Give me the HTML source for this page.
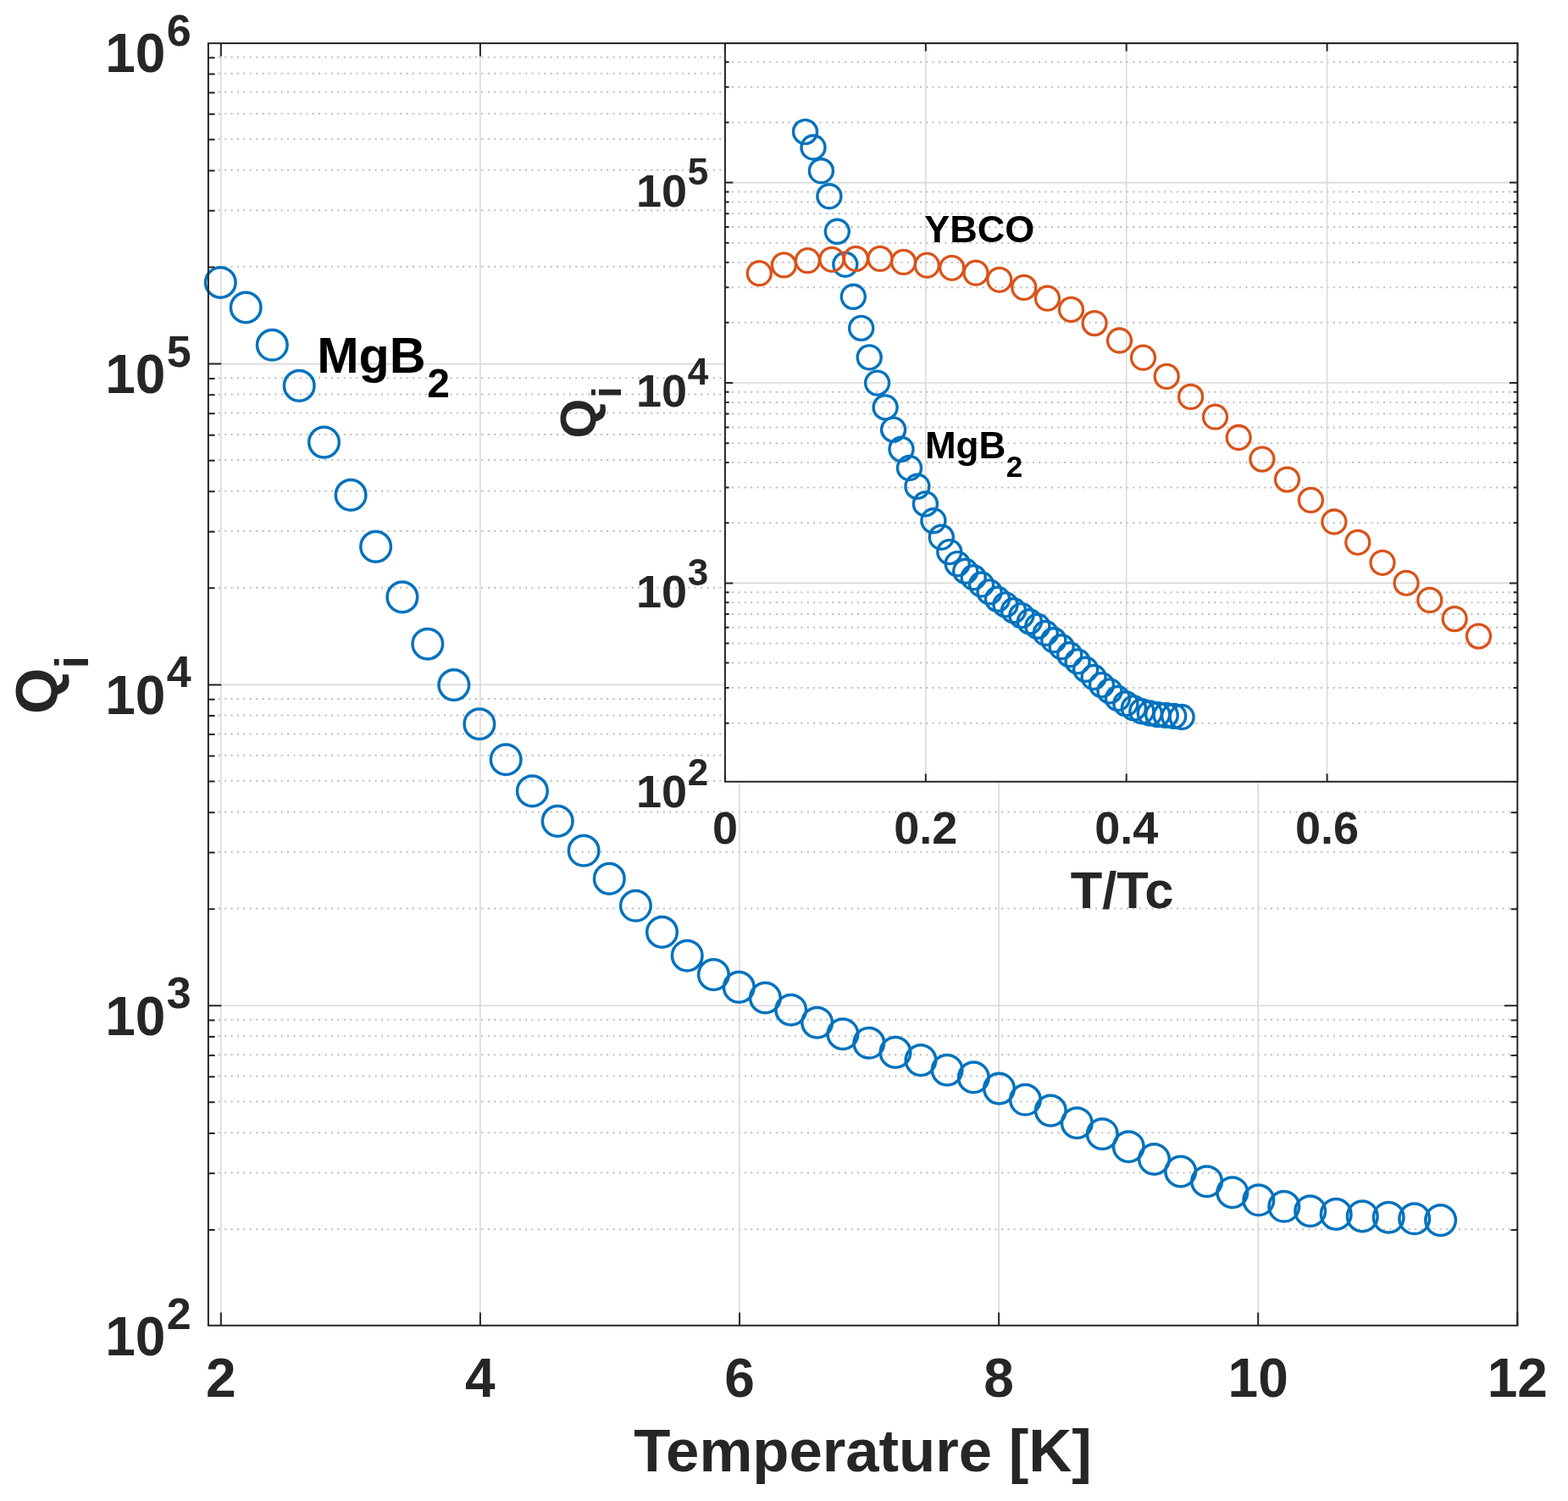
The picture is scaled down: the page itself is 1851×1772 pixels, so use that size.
<!DOCTYPE html>
<html><head><meta charset="utf-8"><title>Qi vs Temperature</title>
<style>html,body{margin:0;padding:0;background:#fff;}svg{display:block;}</style>
</head><body>
<svg width="1851" height="1772" viewBox="0 0 1851 1772">
<rect width="1851" height="1772" fill="#fff"/>
<path d="M245.9 1451.27H1791.3M245.9 1384.57H1791.3M245.9 1337.24H1791.3M245.9 1300.53H1791.3M245.9 1270.54H1791.3M245.9 1245.18H1791.3M245.9 1223.21H1791.3M245.9 1203.83H1791.3M245.9 1072.47H1791.3M245.9 1005.77H1791.3M245.9 958.44H1791.3M245.9 921.73H1791.3M245.9 891.74H1791.3M245.9 866.38H1791.3M245.9 844.41H1791.3M245.9 825.03H1791.3M245.9 693.67H1791.3M245.9 626.97H1791.3M245.9 579.64H1791.3M245.9 542.93H1791.3M245.9 512.94H1791.3M245.9 487.58H1791.3M245.9 465.61H1791.3M245.9 446.23H1791.3M245.9 314.87H1791.3M245.9 248.17H1791.3M245.9 200.84H1791.3M245.9 164.13H1791.3M245.9 134.14H1791.3M245.9 108.78H1791.3M245.9 86.81H1791.3M245.9 67.43H1791.3" stroke="#bcbcbc" stroke-width="2" stroke-dasharray="2 5.394" stroke-dashoffset="2.9" fill="none"/>
<path d="M245.9 1187.20H1791.3M245.9 808.40H1791.3M245.9 429.60H1791.3M260.80 51.1V1564.8M566.90 51.1V1564.8M873.00 51.1V1564.8M1179.10 51.1V1564.8M1485.20 51.1V1564.8" stroke="#dadada" stroke-width="1.6" fill="none"/>
<circle cx="260.3" cy="333.5" r="17.8" stroke="#0072bd" stroke-width="3.5" fill="none"/>
<circle cx="290.2" cy="363.0" r="17.8" stroke="#0072bd" stroke-width="3.5" fill="none"/>
<circle cx="321.3" cy="407.3" r="17.8" stroke="#0072bd" stroke-width="3.5" fill="none"/>
<circle cx="353.2" cy="455.4" r="17.8" stroke="#0072bd" stroke-width="3.5" fill="none"/>
<circle cx="382.5" cy="522.1" r="17.8" stroke="#0072bd" stroke-width="3.5" fill="none"/>
<circle cx="414.1" cy="584.4" r="17.8" stroke="#0072bd" stroke-width="3.5" fill="none"/>
<circle cx="443.6" cy="645.4" r="17.8" stroke="#0072bd" stroke-width="3.5" fill="none"/>
<circle cx="474.9" cy="704.9" r="17.8" stroke="#0072bd" stroke-width="3.5" fill="none"/>
<circle cx="504.8" cy="760.2" r="17.8" stroke="#0072bd" stroke-width="3.5" fill="none"/>
<circle cx="535.8" cy="808.6" r="17.8" stroke="#0072bd" stroke-width="3.5" fill="none"/>
<circle cx="565.9" cy="854.7" r="17.8" stroke="#0072bd" stroke-width="3.5" fill="none"/>
<circle cx="597.2" cy="896.7" r="17.8" stroke="#0072bd" stroke-width="3.5" fill="none"/>
<circle cx="628.4" cy="933.9" r="17.8" stroke="#0072bd" stroke-width="3.5" fill="none"/>
<circle cx="658.2" cy="969.4" r="17.8" stroke="#0072bd" stroke-width="3.5" fill="none"/>
<circle cx="689.1" cy="1004.3" r="17.8" stroke="#0072bd" stroke-width="3.5" fill="none"/>
<circle cx="719.3" cy="1037.4" r="17.8" stroke="#0072bd" stroke-width="3.5" fill="none"/>
<circle cx="750.4" cy="1069.3" r="17.8" stroke="#0072bd" stroke-width="3.5" fill="none"/>
<circle cx="781.5" cy="1100.4" r="17.8" stroke="#0072bd" stroke-width="3.5" fill="none"/>
<circle cx="811.2" cy="1128.2" r="17.8" stroke="#0072bd" stroke-width="3.5" fill="none"/>
<circle cx="842.4" cy="1150.6" r="17.8" stroke="#0072bd" stroke-width="3.5" fill="none"/>
<circle cx="872.3" cy="1165.4" r="17.8" stroke="#0072bd" stroke-width="3.5" fill="none"/>
<circle cx="903.4" cy="1178.0" r="17.8" stroke="#0072bd" stroke-width="3.5" fill="none"/>
<circle cx="933.7" cy="1192.2" r="17.8" stroke="#0072bd" stroke-width="3.5" fill="none"/>
<circle cx="964.6" cy="1207.2" r="17.8" stroke="#0072bd" stroke-width="3.5" fill="none"/>
<circle cx="994.9" cy="1220.7" r="17.8" stroke="#0072bd" stroke-width="3.5" fill="none"/>
<circle cx="1025.8" cy="1231.3" r="17.8" stroke="#0072bd" stroke-width="3.5" fill="none"/>
<circle cx="1057.0" cy="1242.4" r="17.8" stroke="#0072bd" stroke-width="3.5" fill="none"/>
<circle cx="1087.0" cy="1251.6" r="17.8" stroke="#0072bd" stroke-width="3.5" fill="none"/>
<circle cx="1118.1" cy="1263.2" r="17.8" stroke="#0072bd" stroke-width="3.5" fill="none"/>
<circle cx="1149.3" cy="1271.9" r="17.8" stroke="#0072bd" stroke-width="3.5" fill="none"/>
<circle cx="1179.5" cy="1285.1" r="17.8" stroke="#0072bd" stroke-width="3.5" fill="none"/>
<circle cx="1210.4" cy="1298.3" r="17.8" stroke="#0072bd" stroke-width="3.5" fill="none"/>
<circle cx="1240.3" cy="1311.1" r="17.8" stroke="#0072bd" stroke-width="3.5" fill="none"/>
<circle cx="1271.3" cy="1325.7" r="17.8" stroke="#0072bd" stroke-width="3.5" fill="none"/>
<circle cx="1301.3" cy="1338.7" r="17.8" stroke="#0072bd" stroke-width="3.5" fill="none"/>
<circle cx="1332.3" cy="1353.7" r="17.8" stroke="#0072bd" stroke-width="3.5" fill="none"/>
<circle cx="1362.5" cy="1368.5" r="17.8" stroke="#0072bd" stroke-width="3.5" fill="none"/>
<circle cx="1393.7" cy="1383.0" r="17.8" stroke="#0072bd" stroke-width="3.5" fill="none"/>
<circle cx="1424.6" cy="1394.7" r="17.8" stroke="#0072bd" stroke-width="3.5" fill="none"/>
<circle cx="1454.8" cy="1407.7" r="17.8" stroke="#0072bd" stroke-width="3.5" fill="none"/>
<circle cx="1485.8" cy="1416.8" r="17.8" stroke="#0072bd" stroke-width="3.5" fill="none"/>
<circle cx="1515.8" cy="1424.3" r="17.8" stroke="#0072bd" stroke-width="3.5" fill="none"/>
<circle cx="1546.7" cy="1429.7" r="17.8" stroke="#0072bd" stroke-width="3.5" fill="none"/>
<circle cx="1577.2" cy="1433.4" r="17.8" stroke="#0072bd" stroke-width="3.5" fill="none"/>
<circle cx="1608.3" cy="1435.9" r="17.8" stroke="#0072bd" stroke-width="3.5" fill="none"/>
<circle cx="1639.2" cy="1437.2" r="17.8" stroke="#0072bd" stroke-width="3.5" fill="none"/>
<circle cx="1669.7" cy="1438.8" r="17.8" stroke="#0072bd" stroke-width="3.5" fill="none"/>
<circle cx="1700.6" cy="1440.6" r="17.8" stroke="#0072bd" stroke-width="3.5" fill="none"/>
<path d="M260.80 1564.8V1549.4M260.80 51.1V66.5M566.90 1564.8V1549.4M566.90 51.1V66.5M873.00 1564.8V1549.4M873.00 51.1V66.5M1179.10 1564.8V1549.4M1179.10 51.1V66.5M1485.20 1564.8V1549.4M1485.20 51.1V66.5M1791.30 1564.8V1549.4M1791.30 51.1V66.5M245.9 1187.20H261.3M1791.3 1187.20H1775.9M245.9 808.40H261.3M1791.3 808.40H1775.9M245.9 429.60H261.3M1791.3 429.60H1775.9M245.9 1451.97H253.6M1791.3 1451.97H1783.6M245.9 1385.27H253.6M1791.3 1385.27H1783.6M245.9 1337.94H253.6M1791.3 1337.94H1783.6M245.9 1301.23H253.6M1791.3 1301.23H1783.6M245.9 1271.24H253.6M1791.3 1271.24H1783.6M245.9 1245.88H253.6M1791.3 1245.88H1783.6M245.9 1223.91H253.6M1791.3 1223.91H1783.6M245.9 1204.53H253.6M1791.3 1204.53H1783.6M245.9 1073.17H253.6M1791.3 1073.17H1783.6M245.9 1006.47H253.6M1791.3 1006.47H1783.6M245.9 959.14H253.6M1791.3 959.14H1783.6M245.9 922.43H253.6M1791.3 922.43H1783.6M245.9 892.44H253.6M1791.3 892.44H1783.6M245.9 867.08H253.6M1791.3 867.08H1783.6M245.9 845.11H253.6M1791.3 845.11H1783.6M245.9 825.73H253.6M1791.3 825.73H1783.6M245.9 694.37H253.6M1791.3 694.37H1783.6M245.9 627.67H253.6M1791.3 627.67H1783.6M245.9 580.34H253.6M1791.3 580.34H1783.6M245.9 543.63H253.6M1791.3 543.63H1783.6M245.9 513.64H253.6M1791.3 513.64H1783.6M245.9 488.28H253.6M1791.3 488.28H1783.6M245.9 466.31H253.6M1791.3 466.31H1783.6M245.9 446.93H253.6M1791.3 446.93H1783.6M245.9 315.57H253.6M1791.3 315.57H1783.6M245.9 248.87H253.6M1791.3 248.87H1783.6M245.9 201.54H253.6M1791.3 201.54H1783.6M245.9 164.83H253.6M1791.3 164.83H1783.6M245.9 134.84H253.6M1791.3 134.84H1783.6M245.9 109.48H253.6M1791.3 109.48H1783.6M245.9 87.51H253.6M1791.3 87.51H1783.6M245.9 68.13H253.6M1791.3 68.13H1783.6" stroke="#262626" stroke-width="2" fill="none"/>
<rect x="245.9" y="51.1" width="1545.4" height="1513.7" stroke="#262626" stroke-width="2" fill="none"/>
<g style="font-family:'Liberation Sans',Arial,sans-serif;font-weight:bold" fill="#262626">
<text x="260.8" y="1649" font-size="64" text-anchor="middle">2</text>
<text x="566.9" y="1649" font-size="64" text-anchor="middle">4</text>
<text x="873.0" y="1649" font-size="64" text-anchor="middle">6</text>
<text x="1179.1" y="1649" font-size="64" text-anchor="middle">8</text>
<text x="1485.2" y="1649" font-size="64" text-anchor="middle">10</text>
<text x="1791.3" y="1649" font-size="64" text-anchor="middle">12</text>
<text x="195.4" y="1600.3" font-size="64" text-anchor="end">10</text>
<text x="225.6" y="1568.9" font-size="52" text-anchor="end">2</text>
<text x="195.4" y="1221.5" font-size="64" text-anchor="end">10</text>
<text x="225.6" y="1190.1" font-size="52" text-anchor="end">3</text>
<text x="195.4" y="842.7" font-size="64" text-anchor="end">10</text>
<text x="225.6" y="811.3" font-size="52" text-anchor="end">4</text>
<text x="195.4" y="463.9" font-size="64" text-anchor="end">10</text>
<text x="225.6" y="432.5" font-size="52" text-anchor="end">5</text>
<text x="195.4" y="85.1" font-size="64" text-anchor="end">10</text>
<text x="225.6" y="53.7" font-size="52" text-anchor="end">6</text>
</g>
<text x="1018.5" y="1737.2" style="font-family:'Liberation Sans',Arial,sans-serif;font-weight:bold" font-size="70.7" fill="#262626" text-anchor="middle">Temperature [K]</text>
<g style="font-family:'Liberation Sans',Arial,sans-serif;font-weight:bold" fill="#262626"><text transform="translate(68,843) rotate(-90)" font-size="70">Q</text><text transform="translate(104.3,789.5) rotate(-90)" font-size="56">i</text></g>
<g style="font-family:'Liberation Sans',Arial,sans-serif;font-weight:bold" fill="#000"><text x="374.2" y="439.5" font-size="59.3">MgB</text><text x="504.2" y="469" font-size="48">2</text></g>
<rect x="855.9" y="51.1" width="935.4" height="871.7" fill="#fff"/>
<path d="M855.9 853.64H1791.3M855.9 812.01H1791.3M855.9 782.47H1791.3M855.9 759.56H1791.3M855.9 740.85H1791.3M855.9 725.02H1791.3M855.9 711.31H1791.3M855.9 699.22H1791.3M855.9 617.24H1791.3M855.9 575.61H1791.3M855.9 546.07H1791.3M855.9 523.16H1791.3M855.9 504.45H1791.3M855.9 488.62H1791.3M855.9 474.91H1791.3M855.9 462.82H1791.3M855.9 380.84H1791.3M855.9 339.21H1791.3M855.9 309.67H1791.3M855.9 286.76H1791.3M855.9 268.05H1791.3M855.9 252.22H1791.3M855.9 238.51H1791.3M855.9 226.42H1791.3M855.9 144.44H1791.3M855.9 102.81H1791.3M855.9 73.27H1791.3" stroke="#bcbcbc" stroke-width="2" stroke-dasharray="2 5.394" stroke-dashoffset="-0.7" fill="none"/>
<path d="M855.9 688.40H1791.3M855.9 452.00H1791.3M855.9 215.60H1791.3M1092.80 51.1V922.8M1329.70 51.1V922.8M1566.60 51.1V922.8" stroke="#dadada" stroke-width="1.6" fill="none"/>
<circle cx="950.5" cy="155.6" r="14.0" stroke="#0072bd" stroke-width="3.4" fill="none"/>
<circle cx="960.0" cy="174.0" r="14.0" stroke="#0072bd" stroke-width="3.4" fill="none"/>
<circle cx="969.4" cy="201.7" r="14.0" stroke="#0072bd" stroke-width="3.4" fill="none"/>
<circle cx="978.9" cy="231.7" r="14.0" stroke="#0072bd" stroke-width="3.4" fill="none"/>
<circle cx="988.3" cy="273.3" r="14.0" stroke="#0072bd" stroke-width="3.4" fill="none"/>
<circle cx="997.8" cy="312.2" r="14.0" stroke="#0072bd" stroke-width="3.4" fill="none"/>
<circle cx="1007.3" cy="350.3" r="14.0" stroke="#0072bd" stroke-width="3.4" fill="none"/>
<circle cx="1016.7" cy="387.4" r="14.0" stroke="#0072bd" stroke-width="3.4" fill="none"/>
<circle cx="1026.2" cy="421.9" r="14.0" stroke="#0072bd" stroke-width="3.4" fill="none"/>
<circle cx="1035.6" cy="452.1" r="14.0" stroke="#0072bd" stroke-width="3.4" fill="none"/>
<circle cx="1045.1" cy="480.9" r="14.0" stroke="#0072bd" stroke-width="3.4" fill="none"/>
<circle cx="1054.6" cy="507.1" r="14.0" stroke="#0072bd" stroke-width="3.4" fill="none"/>
<circle cx="1064.0" cy="530.3" r="14.0" stroke="#0072bd" stroke-width="3.4" fill="none"/>
<circle cx="1073.5" cy="552.5" r="14.0" stroke="#0072bd" stroke-width="3.4" fill="none"/>
<circle cx="1082.9" cy="574.3" r="14.0" stroke="#0072bd" stroke-width="3.4" fill="none"/>
<circle cx="1092.4" cy="594.9" r="14.0" stroke="#0072bd" stroke-width="3.4" fill="none"/>
<circle cx="1101.9" cy="614.8" r="14.0" stroke="#0072bd" stroke-width="3.4" fill="none"/>
<circle cx="1111.3" cy="634.2" r="14.0" stroke="#0072bd" stroke-width="3.4" fill="none"/>
<circle cx="1120.8" cy="651.6" r="14.0" stroke="#0072bd" stroke-width="3.4" fill="none"/>
<circle cx="1130.2" cy="665.6" r="14.0" stroke="#0072bd" stroke-width="3.4" fill="none"/>
<circle cx="1139.7" cy="674.3" r="14.0" stroke="#0072bd" stroke-width="3.4" fill="none"/>
<circle cx="1149.2" cy="681.7" r="14.0" stroke="#0072bd" stroke-width="3.4" fill="none"/>
<circle cx="1158.6" cy="690.0" r="14.0" stroke="#0072bd" stroke-width="3.4" fill="none"/>
<circle cx="1168.1" cy="698.9" r="14.0" stroke="#0072bd" stroke-width="3.4" fill="none"/>
<circle cx="1177.5" cy="707.3" r="14.0" stroke="#0072bd" stroke-width="3.4" fill="none"/>
<circle cx="1187.0" cy="713.9" r="14.0" stroke="#0072bd" stroke-width="3.4" fill="none"/>
<circle cx="1196.5" cy="720.8" r="14.0" stroke="#0072bd" stroke-width="3.4" fill="none"/>
<circle cx="1205.9" cy="726.6" r="14.0" stroke="#0072bd" stroke-width="3.4" fill="none"/>
<circle cx="1215.4" cy="733.8" r="14.0" stroke="#0072bd" stroke-width="3.4" fill="none"/>
<circle cx="1224.8" cy="739.3" r="14.0" stroke="#0072bd" stroke-width="3.4" fill="none"/>
<circle cx="1234.3" cy="747.5" r="14.0" stroke="#0072bd" stroke-width="3.4" fill="none"/>
<circle cx="1243.8" cy="755.7" r="14.0" stroke="#0072bd" stroke-width="3.4" fill="none"/>
<circle cx="1253.2" cy="763.7" r="14.0" stroke="#0072bd" stroke-width="3.4" fill="none"/>
<circle cx="1262.7" cy="772.8" r="14.0" stroke="#0072bd" stroke-width="3.4" fill="none"/>
<circle cx="1272.1" cy="780.9" r="14.0" stroke="#0072bd" stroke-width="3.4" fill="none"/>
<circle cx="1281.6" cy="790.3" r="14.0" stroke="#0072bd" stroke-width="3.4" fill="none"/>
<circle cx="1291.1" cy="799.5" r="14.0" stroke="#0072bd" stroke-width="3.4" fill="none"/>
<circle cx="1300.5" cy="808.6" r="14.0" stroke="#0072bd" stroke-width="3.4" fill="none"/>
<circle cx="1310.0" cy="815.9" r="14.0" stroke="#0072bd" stroke-width="3.4" fill="none"/>
<circle cx="1319.4" cy="824.5" r="14.0" stroke="#0072bd" stroke-width="3.4" fill="none"/>
<circle cx="1328.9" cy="830.7" r="14.0" stroke="#0072bd" stroke-width="3.4" fill="none"/>
<circle cx="1338.4" cy="835.9" r="14.0" stroke="#0072bd" stroke-width="3.4" fill="none"/>
<circle cx="1347.8" cy="839.7" r="14.0" stroke="#0072bd" stroke-width="3.4" fill="none"/>
<circle cx="1357.3" cy="842.0" r="14.0" stroke="#0072bd" stroke-width="3.4" fill="none"/>
<circle cx="1366.7" cy="843.6" r="14.0" stroke="#0072bd" stroke-width="3.4" fill="none"/>
<circle cx="1376.2" cy="844.4" r="14.0" stroke="#0072bd" stroke-width="3.4" fill="none"/>
<circle cx="1385.7" cy="845.4" r="14.0" stroke="#0072bd" stroke-width="3.4" fill="none"/>
<circle cx="1395.1" cy="846.5" r="14.0" stroke="#0072bd" stroke-width="3.4" fill="none"/>
<circle cx="896.3" cy="322.7" r="14.0" stroke="#d95319" stroke-width="3.3" fill="none"/>
<circle cx="925.4" cy="312.9" r="14.0" stroke="#d95319" stroke-width="3.3" fill="none"/>
<circle cx="953.4" cy="307.7" r="14.0" stroke="#d95319" stroke-width="3.3" fill="none"/>
<circle cx="981.9" cy="306.3" r="14.0" stroke="#d95319" stroke-width="3.3" fill="none"/>
<circle cx="1010.4" cy="305.4" r="14.0" stroke="#d95319" stroke-width="3.3" fill="none"/>
<circle cx="1038.9" cy="305.4" r="14.0" stroke="#d95319" stroke-width="3.3" fill="none"/>
<circle cx="1066.6" cy="309.4" r="14.0" stroke="#d95319" stroke-width="3.3" fill="none"/>
<circle cx="1094.3" cy="313.2" r="14.0" stroke="#d95319" stroke-width="3.3" fill="none"/>
<circle cx="1123.7" cy="316.3" r="14.0" stroke="#d95319" stroke-width="3.3" fill="none"/>
<circle cx="1152.0" cy="322.2" r="14.0" stroke="#d95319" stroke-width="3.3" fill="none"/>
<circle cx="1179.8" cy="330.3" r="14.0" stroke="#d95319" stroke-width="3.3" fill="none"/>
<circle cx="1208.8" cy="339.4" r="14.0" stroke="#d95319" stroke-width="3.3" fill="none"/>
<circle cx="1236.5" cy="352.2" r="14.0" stroke="#d95319" stroke-width="3.3" fill="none"/>
<circle cx="1264.5" cy="365.4" r="14.0" stroke="#d95319" stroke-width="3.3" fill="none"/>
<circle cx="1292.1" cy="381.6" r="14.0" stroke="#d95319" stroke-width="3.3" fill="none"/>
<circle cx="1321.5" cy="402.0" r="14.0" stroke="#d95319" stroke-width="3.3" fill="none"/>
<circle cx="1349.5" cy="422.2" r="14.0" stroke="#d95319" stroke-width="3.3" fill="none"/>
<circle cx="1377.2" cy="444.4" r="14.0" stroke="#d95319" stroke-width="3.3" fill="none"/>
<circle cx="1405.6" cy="468.4" r="14.0" stroke="#d95319" stroke-width="3.3" fill="none"/>
<circle cx="1434.5" cy="492.2" r="14.0" stroke="#d95319" stroke-width="3.3" fill="none"/>
<circle cx="1462.2" cy="516.5" r="14.0" stroke="#d95319" stroke-width="3.3" fill="none"/>
<circle cx="1489.9" cy="542.1" r="14.0" stroke="#d95319" stroke-width="3.3" fill="none"/>
<circle cx="1519.5" cy="566.1" r="14.0" stroke="#d95319" stroke-width="3.3" fill="none"/>
<circle cx="1547.4" cy="590.4" r="14.0" stroke="#d95319" stroke-width="3.3" fill="none"/>
<circle cx="1574.9" cy="616.0" r="14.0" stroke="#d95319" stroke-width="3.3" fill="none"/>
<circle cx="1602.8" cy="640.3" r="14.0" stroke="#d95319" stroke-width="3.3" fill="none"/>
<circle cx="1632.0" cy="664.3" r="14.0" stroke="#d95319" stroke-width="3.3" fill="none"/>
<circle cx="1660.1" cy="688.3" r="14.0" stroke="#d95319" stroke-width="3.3" fill="none"/>
<circle cx="1687.8" cy="708.4" r="14.0" stroke="#d95319" stroke-width="3.3" fill="none"/>
<circle cx="1717.2" cy="730.6" r="14.0" stroke="#d95319" stroke-width="3.3" fill="none"/>
<circle cx="1745.5" cy="751.1" r="14.0" stroke="#d95319" stroke-width="3.3" fill="none"/>
<path d="M855.90 922.8V913.4M855.90 51.1V60.5M1092.80 922.8V913.4M1092.80 51.1V60.5M1329.70 922.8V913.4M1329.70 51.1V60.5M1566.60 922.8V913.4M1566.60 51.1V60.5M855.9 688.40H865.3M1791.3 688.40H1781.9M855.9 452.00H865.3M1791.3 452.00H1781.9M855.9 215.60H865.3M1791.3 215.60H1781.9M855.9 853.64H860.6M1791.3 853.64H1786.6M855.9 812.01H860.6M1791.3 812.01H1786.6M855.9 782.47H860.6M1791.3 782.47H1786.6M855.9 759.56H860.6M1791.3 759.56H1786.6M855.9 740.85H860.6M1791.3 740.85H1786.6M855.9 725.02H860.6M1791.3 725.02H1786.6M855.9 711.31H860.6M1791.3 711.31H1786.6M855.9 699.22H860.6M1791.3 699.22H1786.6M855.9 617.24H860.6M1791.3 617.24H1786.6M855.9 575.61H860.6M1791.3 575.61H1786.6M855.9 546.07H860.6M1791.3 546.07H1786.6M855.9 523.16H860.6M1791.3 523.16H1786.6M855.9 504.45H860.6M1791.3 504.45H1786.6M855.9 488.62H860.6M1791.3 488.62H1786.6M855.9 474.91H860.6M1791.3 474.91H1786.6M855.9 462.82H860.6M1791.3 462.82H1786.6M855.9 380.84H860.6M1791.3 380.84H1786.6M855.9 339.21H860.6M1791.3 339.21H1786.6M855.9 309.67H860.6M1791.3 309.67H1786.6M855.9 286.76H860.6M1791.3 286.76H1786.6M855.9 268.05H860.6M1791.3 268.05H1786.6M855.9 252.22H860.6M1791.3 252.22H1786.6M855.9 238.51H860.6M1791.3 238.51H1786.6M855.9 226.42H860.6M1791.3 226.42H1786.6M855.9 144.44H860.6M1791.3 144.44H1786.6M855.9 102.81H860.6M1791.3 102.81H1786.6M855.9 73.27H860.6M1791.3 73.27H1786.6" stroke="#262626" stroke-width="2" fill="none"/>
<rect x="855.9" y="51.1" width="935.4" height="871.7" stroke="#262626" stroke-width="2" fill="none"/>
<g style="font-family:'Liberation Sans',Arial,sans-serif;font-weight:bold" fill="#262626">
<text x="855.9" y="995.5" font-size="54" text-anchor="middle">0</text>
<text x="1092.8" y="995.5" font-size="54" text-anchor="middle">0.2</text>
<text x="1329.7" y="995.5" font-size="54" text-anchor="middle">0.4</text>
<text x="1566.6" y="995.5" font-size="54" text-anchor="middle">0.6</text>
<text x="811" y="953.0" font-size="54" text-anchor="end">10</text>
<text x="836.2" y="927.0" font-size="44" text-anchor="end">2</text>
<text x="811" y="716.6" font-size="54" text-anchor="end">10</text>
<text x="836.2" y="690.6" font-size="44" text-anchor="end">3</text>
<text x="811" y="480.2" font-size="54" text-anchor="end">10</text>
<text x="836.2" y="454.2" font-size="44" text-anchor="end">4</text>
<text x="811" y="243.8" font-size="54" text-anchor="end">10</text>
<text x="836.2" y="217.8" font-size="44" text-anchor="end">5</text>
</g>
<text x="1324.6" y="1071.8" style="font-family:'Liberation Sans',Arial,sans-serif;font-weight:bold" font-size="61.5" fill="#262626" text-anchor="middle">T/Tc</text>
<g style="font-family:'Liberation Sans',Arial,sans-serif;font-weight:bold" fill="#262626"><text transform="translate(703.4,517.5) rotate(-90)" font-size="60">Q</text><text transform="translate(732.9,469.8) rotate(-90)" font-size="48">i</text></g>
<g style="font-family:'Liberation Sans',Arial,sans-serif;font-weight:bold" fill="#000"><text x="1091.3" y="286.1" font-size="45">YBCO</text><text x="1091.9" y="541.2" font-size="44">MgB</text><text x="1187.7" y="563.2" font-size="35">2</text></g>
</svg>
</body></html>
